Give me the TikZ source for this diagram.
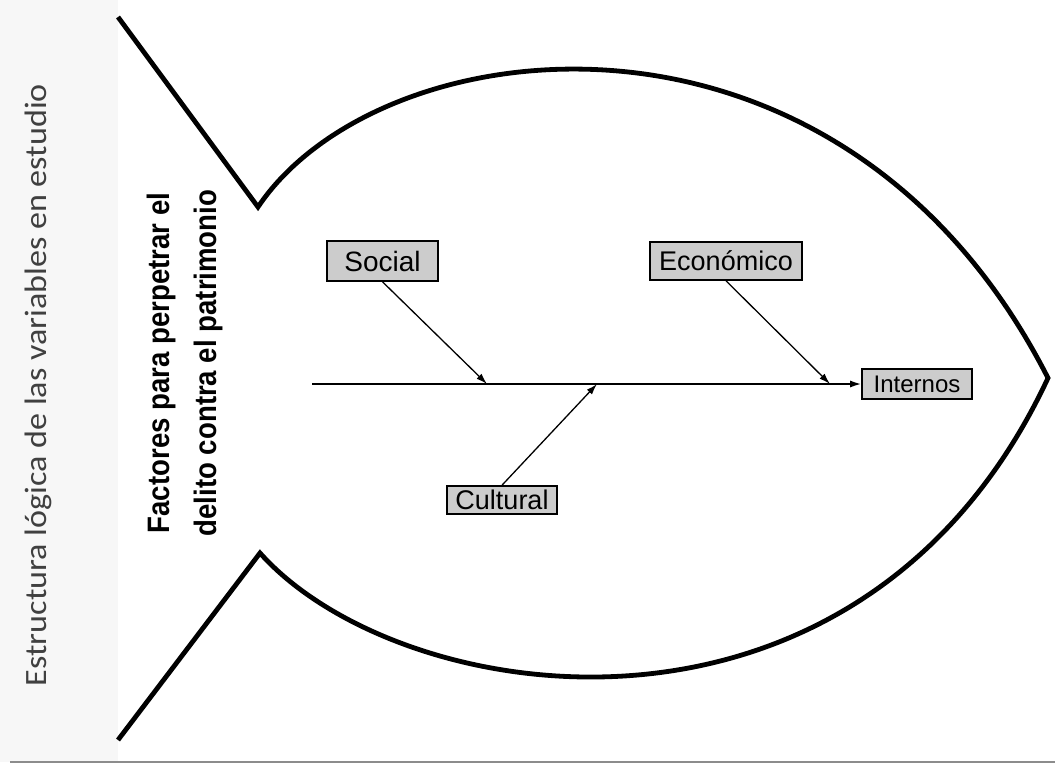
\documentclass[tikz,border=0pt]{standalone}
\usepackage{fontspec}
\setmainfont{Liberation Sans}
\newfontfamily\labelfont{Carlito}
\usetikzlibrary{arrows.meta}
\begin{document}
\begin{tikzpicture}[x=1pt,y=-1pt,
  fishline/.style={line width=4.8pt, line join=miter, line cap=butt},
  catbox/.style={draw=black, line width=1.6pt, fill=black!20, inner sep=0pt, align=center},
  branch/.style={line width=1.3pt, -{Latex[length=11pt,width=7pt]}},
  spineline/.style={line width=1.6pt, -{Latex[length=11pt,width=7pt]}}
]
\useasboundingbox (0,0) rectangle (1055,766);
% scan strip and edge
\fill[black!3] (0,0) rectangle (118,762);
\draw[black!45, line width=1.5pt] (10,762) -- (1055,762);

% fish outline
\draw[fishline] (118,17) -- (258,207)
  .. controls (380,25) and (840,-30) .. (1048,378)
  .. controls (860,780) and (400,710) .. (260,553)
  -- (118,740);

% side labels
\node[rotate=90, anchor=base, font=\labelfont\fontsize{31}{36}\selectfont, text=black!75] (side) at (46,385)
  {\scalebox{1.1}[1]{Estructura lógica de las variables en estudio}};
\node[rotate=90, anchor=base, font=\bfseries\fontsize{31}{36}\selectfont] (title1) at (169,363)
  {\scalebox{0.89}[1]{Factores para perpetrar el}};
\node[rotate=90, anchor=base, font=\bfseries\fontsize{31}{36}\selectfont] (title2) at (216,363)
  {\scalebox{0.89}[1]{delito contra el patrimonio}};

% category boxes
\node[catbox, minimum width=111pt, minimum height=40pt, font=\fontsize{28}{30}\selectfont] (social) at (382.5,261) {Social};
\node[catbox, minimum width=152pt, minimum height=38pt, font=\fontsize{27}{30}\selectfont] (econ) at (726,261) {Económico};
\node[catbox, minimum width=110pt, minimum height=30pt, font=\fontsize{24}{26}\selectfont] (internos) at (917,384) {Internos};
\node[catbox, minimum width=110pt, minimum height=28pt, font=\fontsize{27}{28}\selectfont] (cultural) at (502,500) {Cultural};

% spine
\coordinate (spineL) at (312,384);
\coordinate (sJ) at (487,384);
\coordinate (eJ) at (830,384);
\coordinate (cJ) at (597,384);
\draw[spineline] (spineL) -- (internos.west);

% branches
\draw[branch] (social.south) -- (sJ);
\draw[branch] (econ.south) -- (eJ);
\draw[branch] (cultural.north) -- (cJ);
\end{tikzpicture}
\end{document}
